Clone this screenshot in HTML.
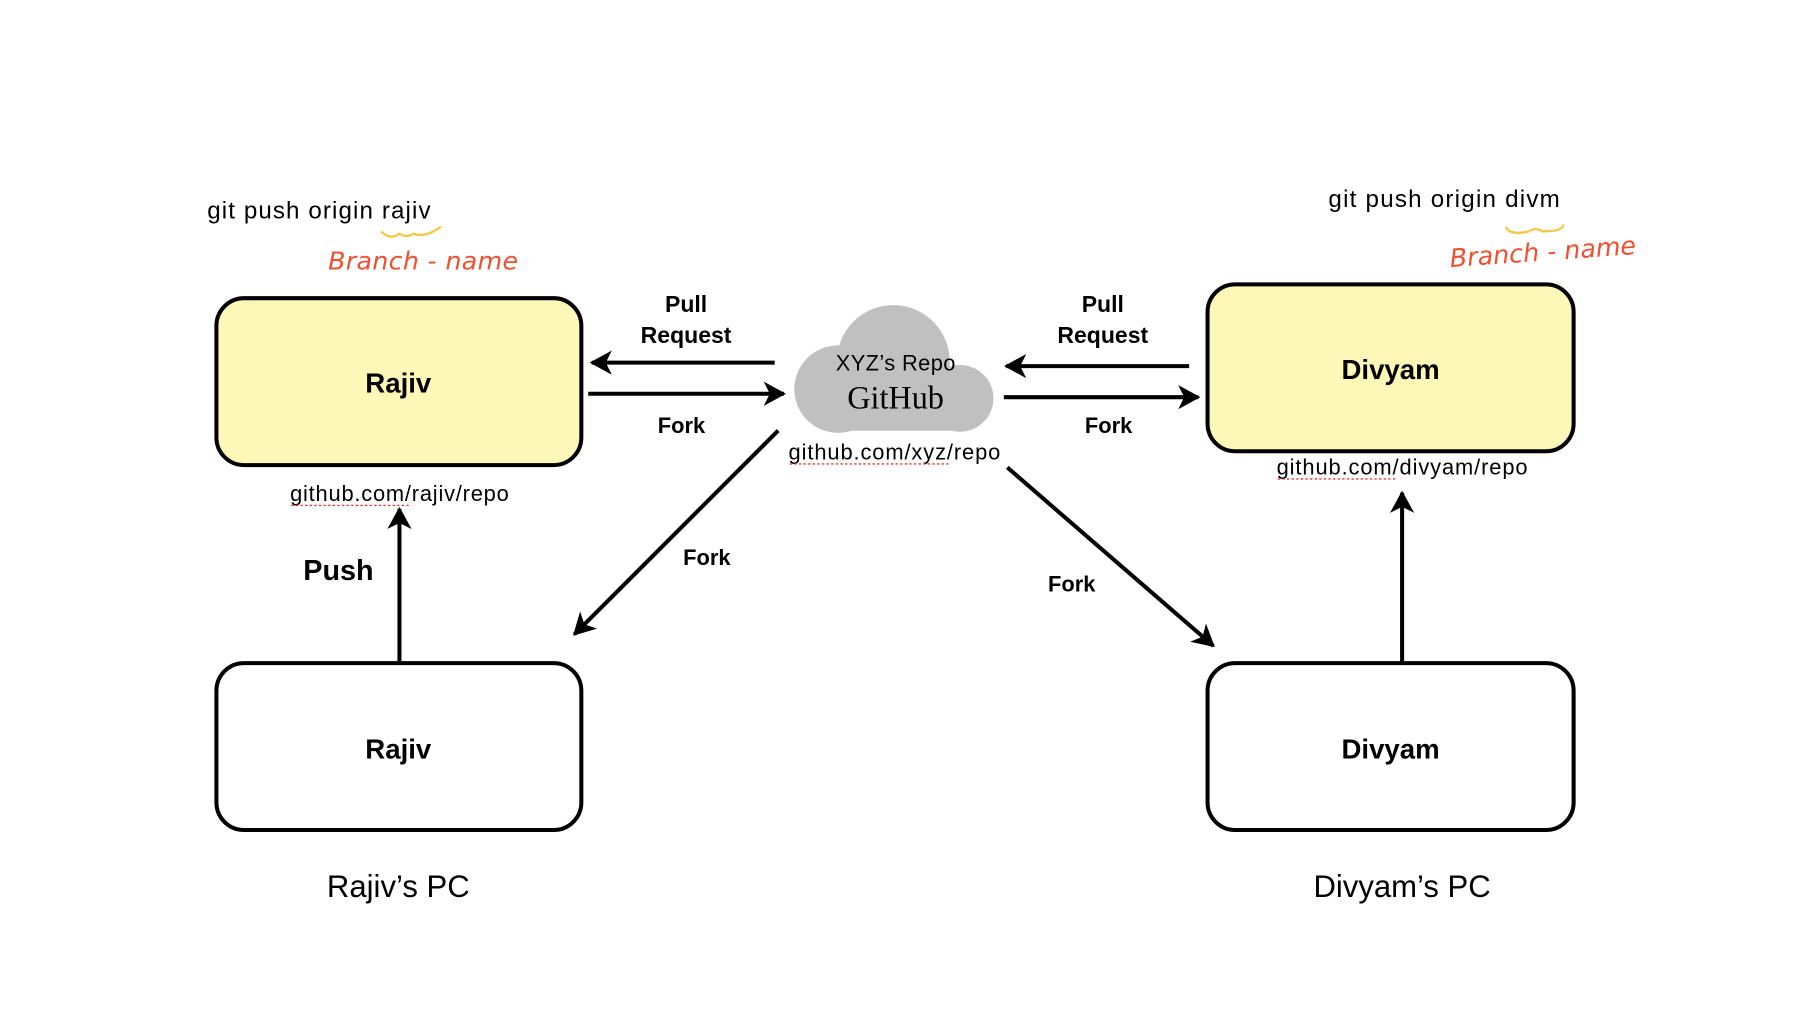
<!DOCTYPE html>
<html><head><meta charset="utf-8"><style>
html,body{margin:0;padding:0;background:#fff;}
svg{display:block;}
text{font-family:"Liberation Sans",sans-serif;}
</style></head><body>
<svg width="1805" height="1014" viewBox="0 0 1568 880.8" xmlns="http://www.w3.org/2000/svg">
<defs>
<marker id="ah" viewBox="0 0 12 12" refX="10" refY="6" markerWidth="6" markerHeight="6" orient="auto" markerUnits="strokeWidth">
<path d="M0,0 L11,6 L0,12 L3,6 Z" fill="#000"/>
</marker>
</defs>
<rect width="1568" height="881" fill="#fff"/>
<rect x="188" y="259" width="317" height="145" rx="24" fill="#fdf8b8" stroke="#000" stroke-width="3.5"/>
<rect x="1049" y="247" width="318" height="145" rx="24" fill="#fdf8b8" stroke="#000" stroke-width="3.5"/>
<rect x="188" y="576" width="317" height="145" rx="24" fill="#fff" stroke="#000" stroke-width="3.5"/>
<rect x="1049" y="576" width="318" height="145" rx="24" fill="#fff" stroke="#000" stroke-width="3.5"/>
<g font-weight="bold" font-size="24" text-anchor="middle">
<text x="346" y="341">Rajiv</text>
<text x="1208" y="329">Divyam</text>
<text x="346" y="659">Rajiv</text>
<text x="1208" y="659">Divyam</text>
</g>
<g fill="#c0c0c0">
<circle cx="776" cy="314" r="49"/>
<circle cx="728" cy="338" r="38"/>
<circle cx="834" cy="346" r="29"/>
<rect x="725" y="330" width="110" height="44" rx="10"/>
<rect x="705" y="340" width="150" height="34" rx="17"/>
</g>
<text x="778" y="322" font-size="19" text-anchor="middle" textLength="104">XYZ’s Repo</text>
<text x="778" y="355" font-size="28" text-anchor="middle" style="font-family:'Liberation Serif',serif">GitHub</text>
<g font-size="19" text-anchor="middle">
<text x="777" y="399" textLength="184">github.com/xyz/repo</text>
<text x="347" y="435" textLength="190">github.com/rajiv/repo</text>
<text x="1218" y="412" textLength="218">github.com/divyam/repo</text>
</g>
<g stroke="#e33" stroke-width="1.2" stroke-dasharray="2,2">
<line x1="686" y1="403" x2="825" y2="403"/>
<line x1="253" y1="439" x2="355" y2="439"/>
<line x1="1110" y1="416" x2="1213" y2="416"/>
</g>
<text x="180" y="190" font-size="21" textLength="194">git push origin rajiv</text>
<text x="1154" y="180" font-size="21" textLength="201">git push origin divm</text>
<path d="M331,201 q8,8 16,2 q6,4 12,0 q10,4 24,-6" stroke="#f5c842" stroke-width="2" fill="none"/>
<path d="M1308,197 q4,8 20,4 q6,-4 12,0 q18,0 18,-6" stroke="#f5c842" stroke-width="2" fill="none"/>
<text x="285" y="234" font-size="22" fill="#f05030" font-style="italic" textLength="165" style="font-family:'DejaVu Sans',sans-serif">Branch - name</text>
<text x="1260" y="232" font-size="22" fill="#f05030" font-style="italic" textLength="162" transform="rotate(-4 1260 232)" style="font-family:'DejaVu Sans',sans-serif">Branch - name</text>
<g stroke="#000" stroke-width="3.5" marker-end="url(#ah)">
<line x1="673" y1="315" x2="514" y2="315"/>
<line x1="511" y1="342" x2="681" y2="342"/>
<line x1="1033" y1="318" x2="874" y2="318"/>
<line x1="872" y1="345" x2="1041" y2="345"/>
<line x1="676" y1="374" x2="499" y2="551"/>
<line x1="875" y1="406" x2="1054" y2="561"/>
<line x1="347" y1="576" x2="347" y2="442"/>
<line x1="1218" y1="576" x2="1218" y2="428"/>
</g>
<g font-weight="bold" font-size="20" text-anchor="middle">
<text x="596" y="271">Pull</text>
<text x="596" y="298">Request</text>
<text x="958" y="271">Pull</text>
<text x="958" y="298">Request</text>
<text x="592" y="376" font-size="19">Fork</text>
<text x="963" y="376" font-size="19">Fork</text>
<text x="614" y="491" font-size="19">Fork</text>
<text x="931" y="514" font-size="19">Fork</text>
<text x="294" y="504" font-size="25">Push</text>
</g>
<text x="346" y="779" font-size="27" text-anchor="middle">Rajiv’s PC</text>
<text x="1218" y="779" font-size="27" text-anchor="middle">Divyam’s PC</text>
</svg>
</body></html>
